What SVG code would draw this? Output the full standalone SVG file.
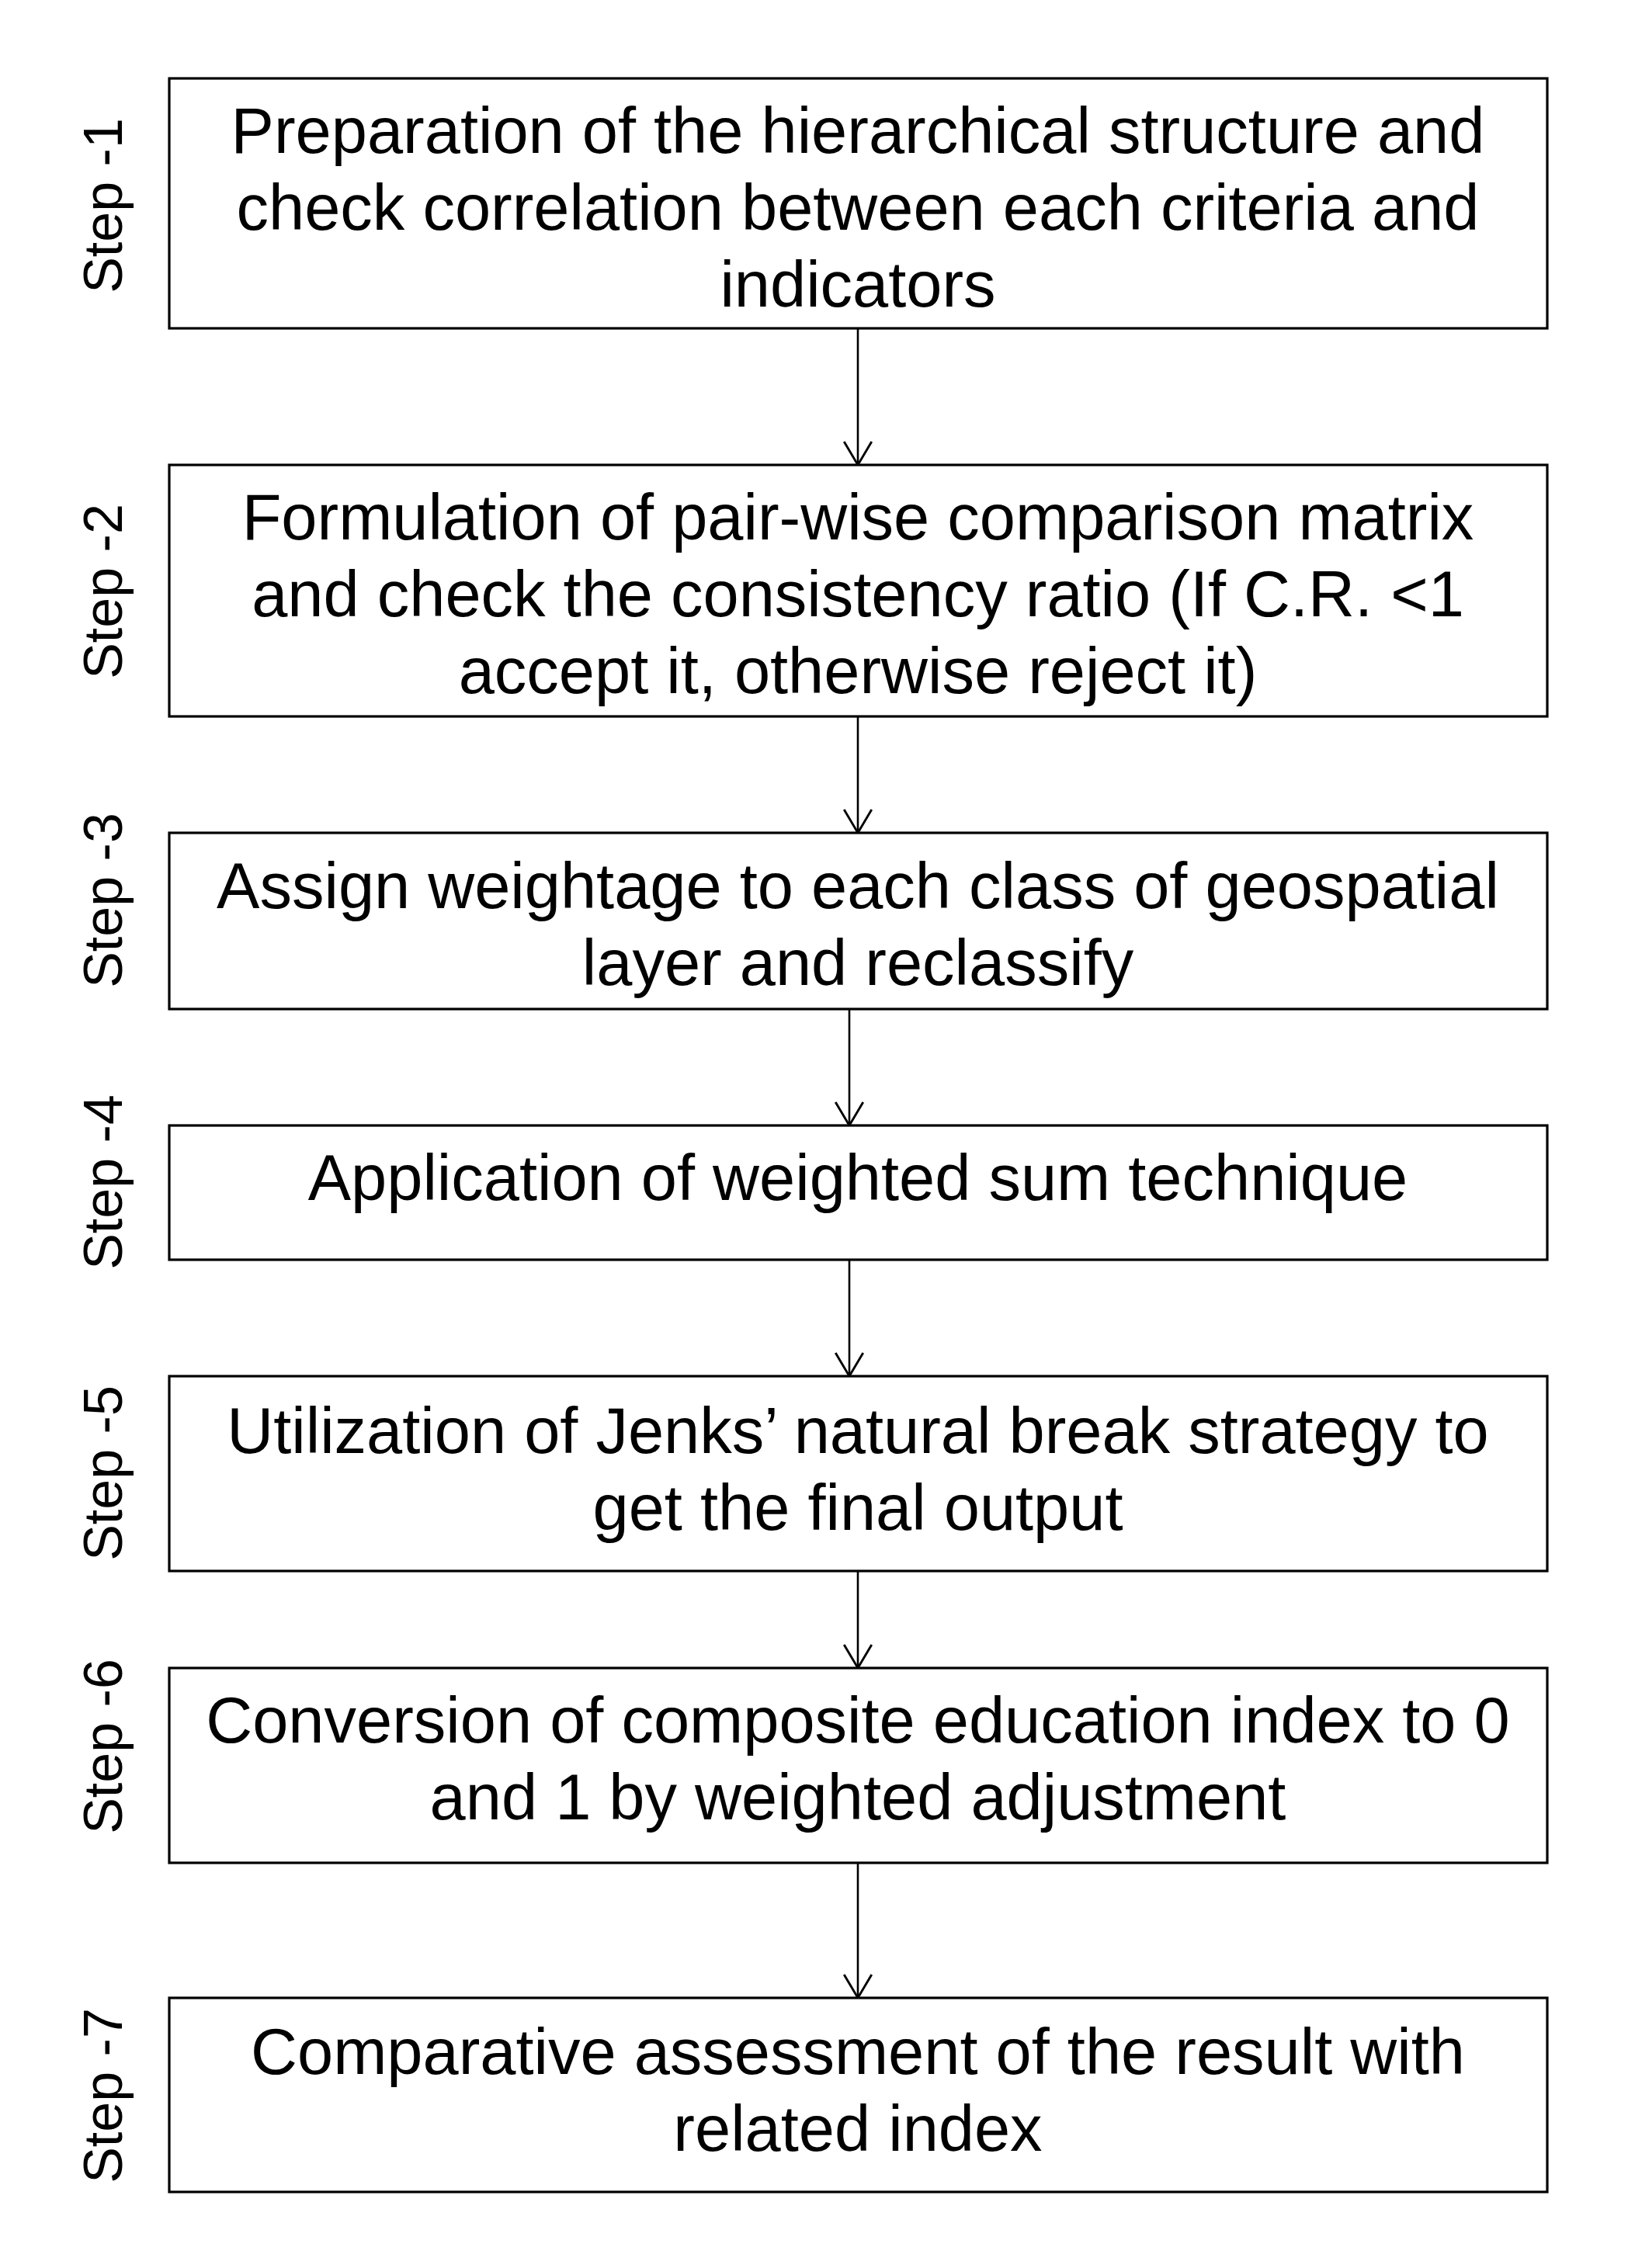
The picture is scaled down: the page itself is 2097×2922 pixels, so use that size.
<svg xmlns="http://www.w3.org/2000/svg" width="2097" height="2922" viewBox="0 0 2097 2922">
<style>
.box{fill:#fff;stroke:#000;stroke-width:3.2}
.t{font-family:"Liberation Sans",Arial,sans-serif;font-size:83px;fill:#000;text-anchor:middle}
.lbl{font-family:"Liberation Sans",Arial,sans-serif;font-size:70px;fill:#000;text-anchor:middle}
.c{stroke:#000;stroke-width:2.6;fill:none}
</style>
<defs>
<marker id="ah" markerUnits="userSpaceOnUse" markerWidth="40" markerHeight="40" viewBox="-2 -2 32 36" refX="27" refY="16" orient="auto">
<path d="M0,0 L27,16 L0,32" fill="none" stroke="#000" stroke-width="2.6"/>
</marker>
</defs>
<rect width="2097" height="2922" fill="#fff"/>
<g id="connectors">
<line class="c" x1="1105" y1="423" x2="1105" y2="599" marker-end="url(#ah)"/>
<line class="c" x1="1105" y1="923" x2="1105" y2="1073" marker-end="url(#ah)"/>
<line class="c" x1="1094" y1="1300" x2="1094" y2="1450" marker-end="url(#ah)"/>
<line class="c" x1="1094" y1="1623" x2="1094" y2="1773" marker-end="url(#ah)"/>
<line class="c" x1="1105" y1="2024" x2="1105" y2="2149" marker-end="url(#ah)"/>
<line class="c" x1="1105" y1="2400" x2="1105" y2="2574" marker-end="url(#ah)"/>
</g>
<g id="step1">
<rect class="box" x="218" y="101" width="1775" height="322"/>
<text class="t" x="1105" y="197">Preparation of the hierarchical structure and</text>
<text class="t" x="1105" y="296">check correlation between each criteria and</text>
<text class="t" x="1105" y="395">indicators</text>
<text class="lbl" transform="translate(157,265) rotate(-90)">Step -1</text>
</g>
<g id="step2">
<rect class="box" x="218" y="599" width="1775" height="324"/>
<text class="t" x="1105" y="695">Formulation of pair-wise comparison matrix</text>
<text class="t" x="1105" y="794">and check the consistency ratio (If C.R. &lt;1</text>
<text class="t" x="1105" y="893">accept it, otherwise reject it)</text>
<text class="lbl" transform="translate(157,762) rotate(-90)">Step -2</text>
</g>
<g id="step3">
<rect class="box" x="218" y="1073" width="1775" height="227"/>
<text class="t" x="1105" y="1170">Assign weightage to each class of geospatial</text>
<text class="t" x="1105" y="1269">layer and reclassify</text>
<text class="lbl" transform="translate(157,1160) rotate(-90)">Step -3</text>
</g>
<g id="step4">
<rect class="box" x="218" y="1450" width="1775" height="173"/>
<text class="t" x="1105" y="1546">Application of weighted sum technique</text>
<text class="lbl" transform="translate(157,1523) rotate(-90)">Step -4</text>
</g>
<g id="step5">
<rect class="box" x="218" y="1773" width="1775" height="251"/>
<text class="t" x="1105" y="1872">Utilization of Jenks’ natural break strategy to</text>
<text class="t" x="1105" y="1971">get the final output</text>
<text class="lbl" transform="translate(157,1898) rotate(-90)">Step -5</text>
</g>
<g id="step6">
<rect class="box" x="218" y="2149" width="1775" height="251"/>
<text class="t" x="1105" y="2245">Conversion of composite education index to 0</text>
<text class="t" x="1105" y="2344">and 1 by weighted adjustment</text>
<text class="lbl" transform="translate(157,2250) rotate(-90)">Step -6</text>
</g>
<g id="step7">
<rect class="box" x="218" y="2574" width="1775" height="250"/>
<text class="t" x="1105" y="2672">Comparative assessment of the result with</text>
<text class="t" x="1105" y="2771">related index</text>
<text class="lbl" transform="translate(157,2700) rotate(-90)">Step -7</text>
</g>
</svg>
